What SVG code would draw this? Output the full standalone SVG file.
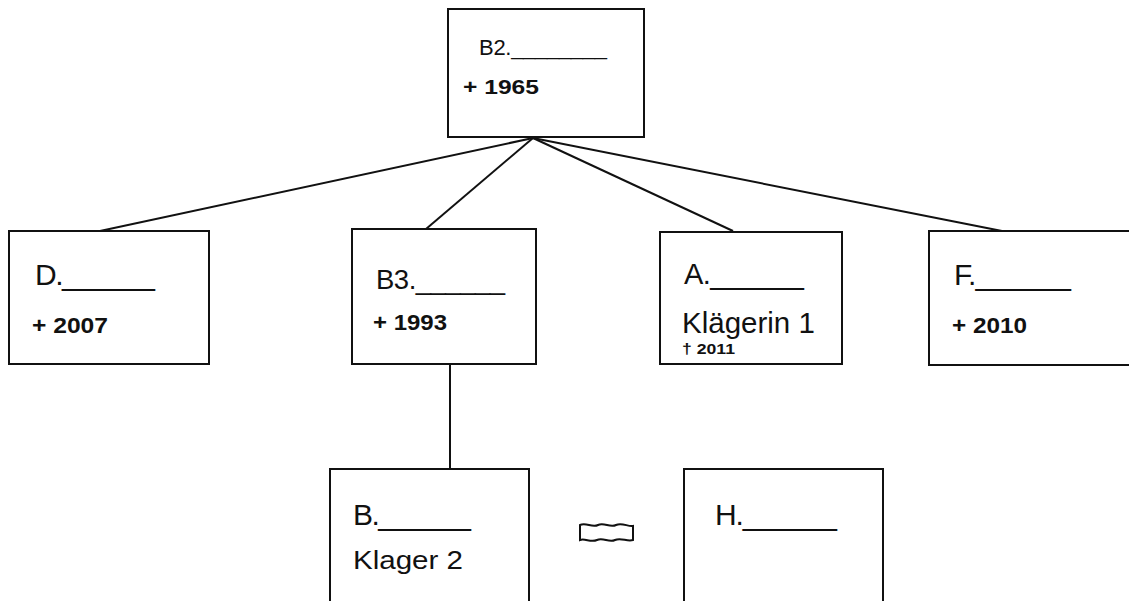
<svg xmlns="http://www.w3.org/2000/svg" width="1129" height="601" viewBox="0 0 1129 601">
<style>
.box{fill:#fff;stroke:#111;stroke-width:2}
.con{stroke:#111;stroke-width:2;fill:none}
.lbl{font-family:"Liberation Sans",Arial,sans-serif;fill:#111}
.yr{font-family:"Liberation Sans",Arial,sans-serif;font-weight:bold;fill:#111}
</style>
<rect width="1129" height="601" fill="#fff"/>
<g id="connectors">
<line class="con" x1="533" y1="138" x2="100" y2="231"/>
<line class="con" x1="533" y1="138" x2="426" y2="229"/>
<line class="con" x1="533" y1="138" x2="733" y2="231"/>
<line class="con" x1="533" y1="138" x2="1002" y2="231"/>
<line class="con" x1="450" y1="364" x2="450" y2="469"/>
</g>
<g id="node-B2">
<rect class="box" x="448" y="9" width="196" height="128"/>
<text class="lbl" x="479" y="55" font-size="22" textLength="128" lengthAdjust="spacing">B2.________</text>
<text class="yr" x="463" y="94" font-size="21" textLength="76" lengthAdjust="spacingAndGlyphs">+ 1965</text>
</g>
<g id="node-D">
<rect class="box" x="9" y="231" width="200" height="133"/>
<text class="lbl" x="35" y="285" font-size="30" textLength="120" lengthAdjust="spacing">D.______</text>
<text class="yr" x="32" y="333" font-size="22" textLength="76" lengthAdjust="spacingAndGlyphs">+ 2007</text>
</g>
<g id="node-B3">
<rect class="box" x="352" y="229" width="184" height="135"/>
<text class="lbl" x="376" y="289" font-size="27.5" textLength="129" lengthAdjust="spacing">B3.______</text>
<text class="yr" x="373" y="330" font-size="22" textLength="74" lengthAdjust="spacingAndGlyphs">+ 1993</text>
</g>
<g id="node-A">
<rect class="box" x="660" y="232" width="182" height="132"/>
<text class="lbl" x="684" y="284" font-size="29" textLength="120" lengthAdjust="spacing">A.______</text>
<text class="lbl" x="682" y="333" font-size="29.5">Klägerin 1</text>
<text class="yr" x="682" y="354" font-size="14.5" textLength="53" lengthAdjust="spacingAndGlyphs">† 2011</text>
</g>
<g id="node-F">
<rect class="box" x="929" y="231" width="204" height="134"/>
<text class="lbl" x="954" y="285" font-size="30" textLength="117" lengthAdjust="spacing">F.______</text>
<text class="yr" x="952" y="333" font-size="22" textLength="75" lengthAdjust="spacingAndGlyphs">+ 2010</text>
</g>
<g id="node-B">
<rect class="box" x="330" y="469" width="199" height="140"/>
<text class="lbl" x="353" y="525" font-size="30" textLength="118" lengthAdjust="spacing">B.______</text>
<text class="lbl" x="353" y="569" font-size="25" textLength="110" lengthAdjust="spacingAndGlyphs">Klager 2</text>
</g>
<g id="symbol">
<path class="con" d="M580,525 C586,522 592,528 598,525 C604,522 610,528 616,525 C622,522 628,527 633,526 L633,540 C627,542 621,537 615,540 C609,543 603,537 597,540 C591,543 585,538 580,540 Z"/>
</g>
<g id="node-H">
<rect class="box" x="684" y="469" width="199" height="140"/>
<text class="lbl" x="715" y="525" font-size="30" textLength="122" lengthAdjust="spacing">H.______</text>
</g>
</svg>
